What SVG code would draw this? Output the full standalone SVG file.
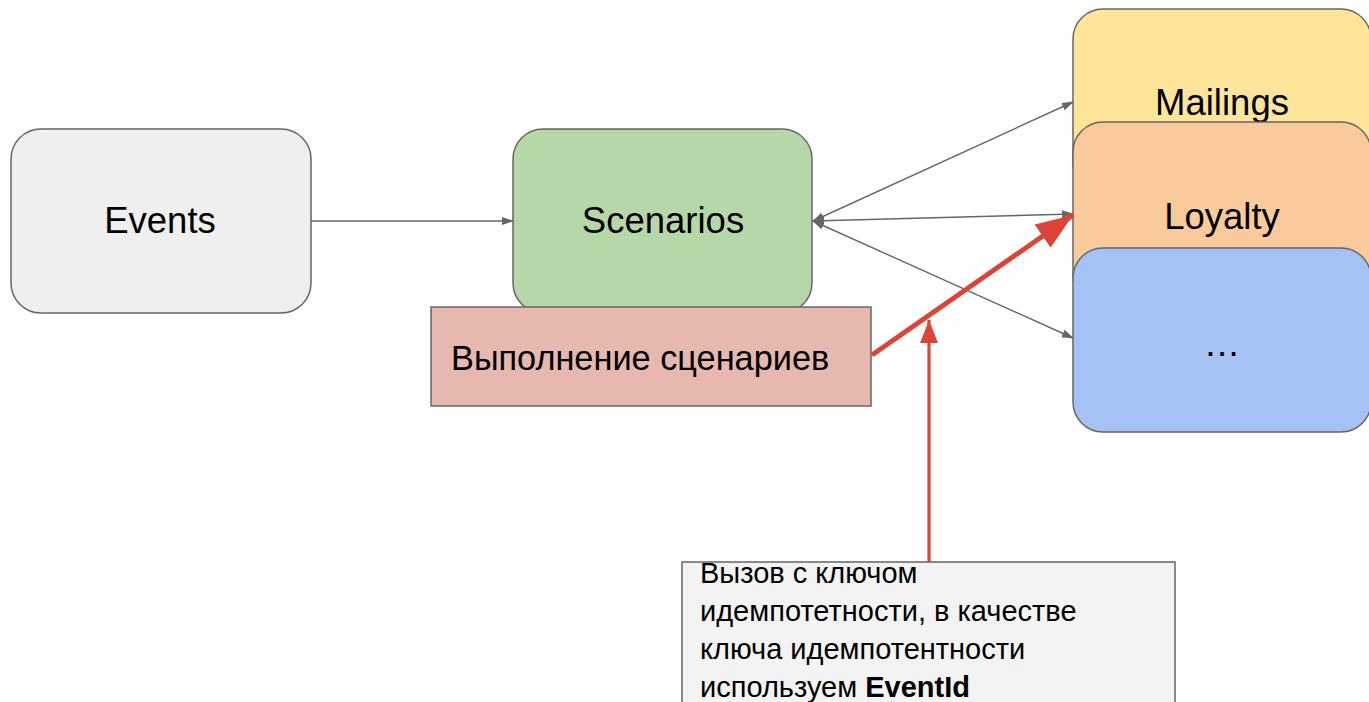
<svg xmlns="http://www.w3.org/2000/svg" width="1369" height="702" viewBox="0 0 1369 702">
  <style>
    .box { stroke: #666666; stroke-width: 1.5; }
    .label { font-family: "Liberation Sans", Arial, sans-serif; fill: #000000; }
    .big { font-size: 36.5px; text-anchor: middle; }
    .mid { font-size: 34.3px; }
    .small { font-size: 29px; }
    .link { stroke: #666666; stroke-width: 1.4; fill: none; }
    .hot { stroke: #db4437; fill: none; }
  </style>
  <defs>
    <marker id="arrow-grey" viewBox="0 0 12 10" refX="11" refY="5" markerWidth="12" markerHeight="10" markerUnits="userSpaceOnUse" orient="auto-start-reverse">
      <path d="M0,1 L12,5 L0,9 Z" fill="#666666"/>
    </marker>
    <marker id="arrow-red-big" viewBox="0 0 37 28" refX="37" refY="14" markerWidth="37" markerHeight="28" markerUnits="userSpaceOnUse" orient="auto">
      <path d="M0,0 L37,14 L0,28 Z" fill="#db4437"/>
    </marker>
    <marker id="arrow-red" viewBox="0 0 23 18" refX="23" refY="9" markerWidth="23" markerHeight="18" markerUnits="userSpaceOnUse" orient="auto">
      <path d="M0,0 L23,9 L0,18 Z" fill="#db4437"/>
    </marker>
  </defs>

  <!-- Event source -->
  <g id="events">
    <rect class="box" x="11" y="129" width="300" height="184" rx="30" fill="#efefef"/>
    <text class="label big" x="160" y="233">Events</text>
  </g>

  <!-- Scenario engine -->
  <g id="scenarios">
    <rect class="box" x="513" y="129" width="299" height="184" rx="30" fill="#b6d7a8"/>
    <text class="label big" x="663" y="233">Scenarios</text>
  </g>

  <!-- Scenario execution note -->
  <g id="execution">
    <rect class="box" x="431" y="307" width="440" height="99" fill="#e6b8af"/>
    <text class="label mid" x="451" y="370">Выполнение сценариев</text>
  </g>

  <!-- Downstream services, stacked -->
  <g id="mailings">
    <rect class="box" x="1073" y="9" width="298" height="184" rx="30" fill="#ffe599"/>
    <text class="label big" x="1222" y="115">Mailings</text>
  </g>
  <g id="loyalty">
    <rect class="box" x="1073" y="122" width="298" height="184" rx="30" fill="#f9cb9c"/>
    <text class="label big" x="1222" y="229">Loyalty</text>
  </g>
  <g id="other">
    <rect class="box" x="1073" y="248" width="298" height="184" rx="30" fill="#a4c2f4"/>
    <text class="label big" x="1222" y="356">…</text>
  </g>

  <!-- Idempotency note -->
  <g id="idempotency-note">
    <rect class="box" x="682" y="562" width="493" height="160" fill="#f3f3f3"/>
    <text class="label small" x="700" y="583">Вызов с ключом</text>
    <text class="label small" x="700" y="621">идемпотетности, в качестве</text>
    <text class="label small" x="700" y="659">ключа идемпотентности</text>
    <text class="label small" x="700" y="697">используем <tspan font-weight="bold">EventId</tspan></text>
  </g>

  <!-- Connectors -->
  <g id="connectors">
    <line class="link" x1="311" y1="221" x2="513" y2="221" marker-end="url(#arrow-grey)"/>
    <line class="link" x1="813" y1="221" x2="1073" y2="102" marker-start="url(#arrow-grey)" marker-end="url(#arrow-grey)"/>
    <line class="link" x1="813" y1="221" x2="1073" y2="214" marker-start="url(#arrow-grey)" marker-end="url(#arrow-grey)"/>
    <line class="link" x1="813" y1="221" x2="1073" y2="338" marker-start="url(#arrow-grey)" marker-end="url(#arrow-grey)"/>
    <line class="hot" stroke-width="5" x1="872" y1="355" x2="1073" y2="215" marker-end="url(#arrow-red-big)"/>
    <line class="hot" stroke-width="3.2" x1="929" y1="562" x2="929" y2="320" marker-end="url(#arrow-red)"/>
  </g>
</svg>
